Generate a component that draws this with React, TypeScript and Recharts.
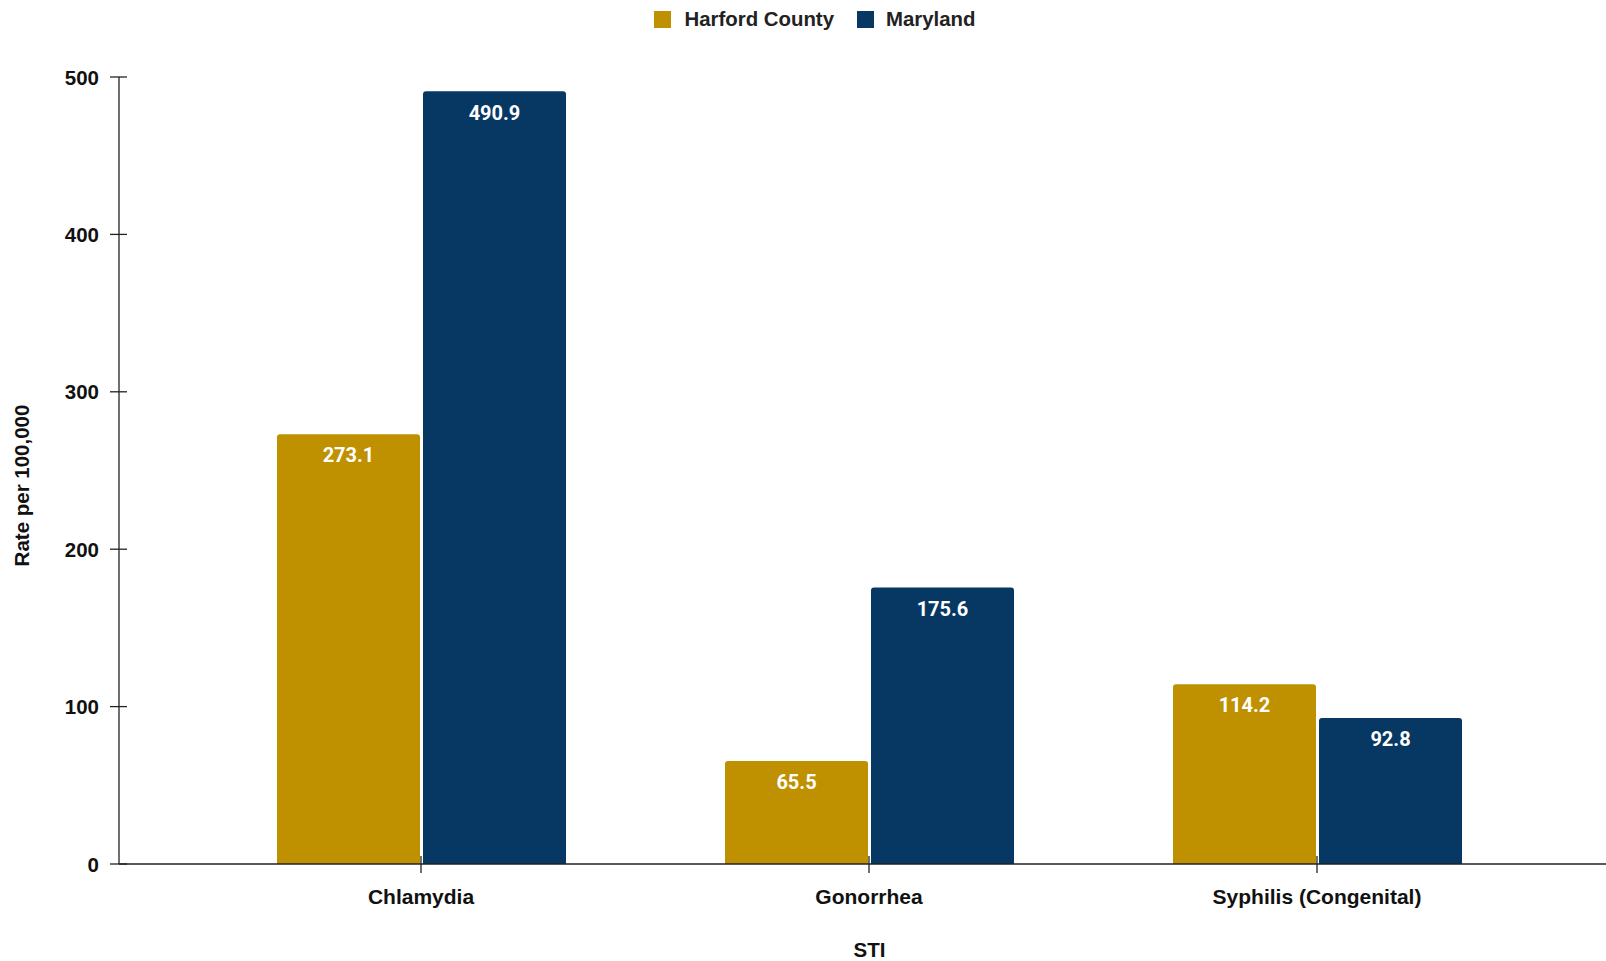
import { BarChart, Bar, XAxis, YAxis, Legend, LabelList, Label } from 'recharts'

const categories = ['Chlamydia', 'Gonorrhea', 'Syphilis (Congenital)']
const harford = [273.1, 65.5, 114.2]
const maryland = [490.9, 175.6, 92.8]
const yTicks = [0, 100, 200, 300, 400, 500]

const GOLD = '#BF9000'
const NAVY = '#073763'
const FONT = '"Liberation Sans", Arial, sans-serif'

const data = categories.map((name, i) => ({ name, harford: harford[i], maryland: maryland[i] }))

const YTick = ({ x, y, payload }: any) => (
  <g>
    <line x1={x - 9} x2={x + 8} y1={y} y2={y} stroke="#222" strokeWidth={1.3} />
    <text x={x - 20} y={y} dy={7.5} textAnchor="end" fontFamily={FONT} fontWeight="bold" fontSize={20.5} fill="#111">
      {payload.value}
    </text>
  </g>
)

const XTick = ({ x, y, payload }: any) => (
  <g>
    <line x1={x} x2={x} y1={y - 8} y2={y + 9} stroke="#222" strokeWidth={1.3} />
    <text x={x} y={y + 40} textAnchor="middle" fontFamily={FONT} fontWeight="bold" fontSize={21} fill="#111">
      {payload.value}
    </text>
  </g>
)

const LegendContent = () => (
  <div style={{ height: 38, display: 'flex', justifyContent: 'center', alignItems: 'center', paddingLeft: 24, fontFamily: FONT, fontWeight: 'bold', fontSize: 20.4, color: '#222' }}>
    <span style={{ width: 17, height: 17, background: GOLD, display: 'inline-block', marginRight: 13 }} />
    <span style={{ marginRight: 23 }}>Harford County</span>
    <span style={{ width: 17, height: 17, background: NAVY, display: 'inline-block', marginRight: 12 }} />
    <span>Maryland</span>
  </div>
)

const valueStyle = { fill: '#fff', fontFamily: 'Roboto', fontWeight: 'bold', fontSize: 20 }

export default function App() {
  return (
    <div style={{ position: 'fixed', left: 0, top: 0, width: 1606, height: 961, background: '#fff' }}>
      <BarChart width={1606} height={961} data={data} barSize={143} barGap={3}
        margin={{ top: 39, right: 0, bottom: 0, left: 0 }}>
        <Legend verticalAlign="top" align="center" content={<LegendContent />}
          wrapperStyle={{ top: 0, left: 0, width: 1606 }} />
        <XAxis dataKey="name" height={97} padding={{ left: 78, right: 65 }}
          tickSize={0} tickMargin={0} tickLine={false} tick={<XTick />}
          axisLine={{ stroke: '#222', strokeWidth: 1.3 }} interval={0}>
          <Label value="STI" position="insideBottom" offset={4} dx={7}
            style={{ fontFamily: FONT, fontWeight: 'bold', fontSize: 20.5, fill: '#111' }} />
        </XAxis>
        <YAxis domain={[0, 500]} ticks={yTicks} width={119} tickSize={0} tickMargin={0}
          tickLine={false} tick={<YTick />} axisLine={{ stroke: '#222', strokeWidth: 1.3 }}>
          <Label value="Rate per 100,000" angle={-90} position="insideLeft" offset={22} dy={15}
            style={{ textAnchor: 'middle', fontFamily: FONT, fontWeight: 'bold', fontSize: 20.5, fill: '#111' }} />
        </YAxis>
        <Bar dataKey="harford" name="Harford County" fill={GOLD} radius={[3, 3, 0, 0]} isAnimationActive={false}>
          <LabelList dataKey="harford" position="insideTop" offset={14} style={valueStyle} />
        </Bar>
        <Bar dataKey="maryland" name="Maryland" fill={NAVY} radius={[3, 3, 0, 0]} isAnimationActive={false}>
          <LabelList dataKey="maryland" position="insideTop" offset={14} style={valueStyle} />
        </Bar>
      </BarChart>
    </div>
  )
}
